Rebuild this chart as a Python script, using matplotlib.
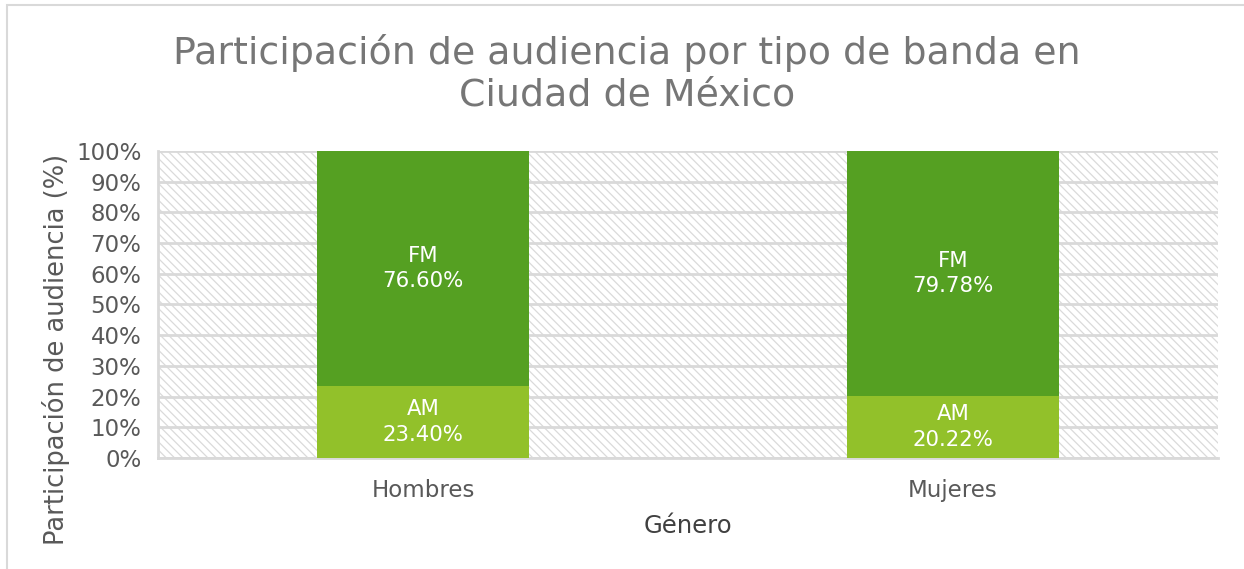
import matplotlib.pyplot as plt
import matplotlib.patches as mpatches
import numpy as np

generos = ['Hombres', 'Mujeres']
am = [23.40, 20.22]
fm = [76.60, 79.78]
ticks = np.arange(0, 101, 10)

plt.rcParams['font.family'] = ['DejaVu Sans']
plt.rcParams['hatch.color'] = '#dadada'
plt.rcParams['hatch.linewidth'] = 0.9

fig = plt.figure(figsize=(12.44, 5.69), dpi=100)
fig.patches.append(mpatches.Rectangle((0.006, -0.01), 1.1, 1.001, transform=fig.transFigure,
                                      facecolor='none', edgecolor='#d9d9d9', linewidth=1.5))
ax = fig.add_axes([0.127, 0.195, 0.852, 0.54])

# fondo rayado
ax.add_patch(mpatches.Rectangle((0, 0), 1, 1, transform=ax.transAxes, facecolor='white',
                                edgecolor='#dadada', hatch='\\' * 4, linewidth=0, zorder=0))

x = np.arange(len(generos))
ancho = 0.4
b1 = ax.bar(x, am, ancho, color='#92c12a', zorder=3)
b2 = ax.bar(x, fm, ancho, bottom=am, color='#55a022', zorder=3)

for i in range(len(generos)):
    ax.text(x[i], am[i] / 2, 'AM\n%.2f%%' % am[i], ha='center', va='center',
            color='white', fontsize=15.3, linespacing=1.35, zorder=4)
    ax.text(x[i], am[i] + fm[i] / 2, 'FM\n%.2f%%' % fm[i], ha='center', va='center',
            color='white', fontsize=15.3, linespacing=1.35, zorder=4)

ax.set_xlim(-0.5, 1.5)
ax.set_ylim(0, 100)
ax.set_yticks(ticks)
ax.set_yticklabels(['%d%%' % t for t in ticks])
ax.set_xticks(x)
ax.set_xticklabels(generos)
ax.yaxis.grid(True, color='#d9d9d9', linewidth=2, zorder=1)
ax.set_axisbelow(True)
ax.tick_params(axis='both', length=0, labelsize=16.5, labelcolor='#595959')
ax.tick_params(axis='y', pad=12)
ax.tick_params(axis='x', pad=15)
for s in ['top', 'right']:
    ax.spines[s].set_visible(False)
ax.spines['left'].set_color('#d9d9d9')
ax.spines['left'].set_linewidth(2)
ax.spines['bottom'].set_color('#d9d9d9')
ax.spines['bottom'].set_linewidth(2)

ax.set_xlabel('Género', fontsize=17.5, color='#404040', labelpad=9)
ax.set_ylabel('Participación de audiencia (%)', fontsize=18.5, color='#595959')
ax.yaxis.set_label_coords(-0.083, 0.352)
fig.text(0.504, 0.871, 'Participación de audiencia por tipo de banda en\nCiudad de México',
         ha='center', va='center', fontsize=27.3, color='#767676', linespacing=1.2)

plt.savefig('out.png', dpi=100)
